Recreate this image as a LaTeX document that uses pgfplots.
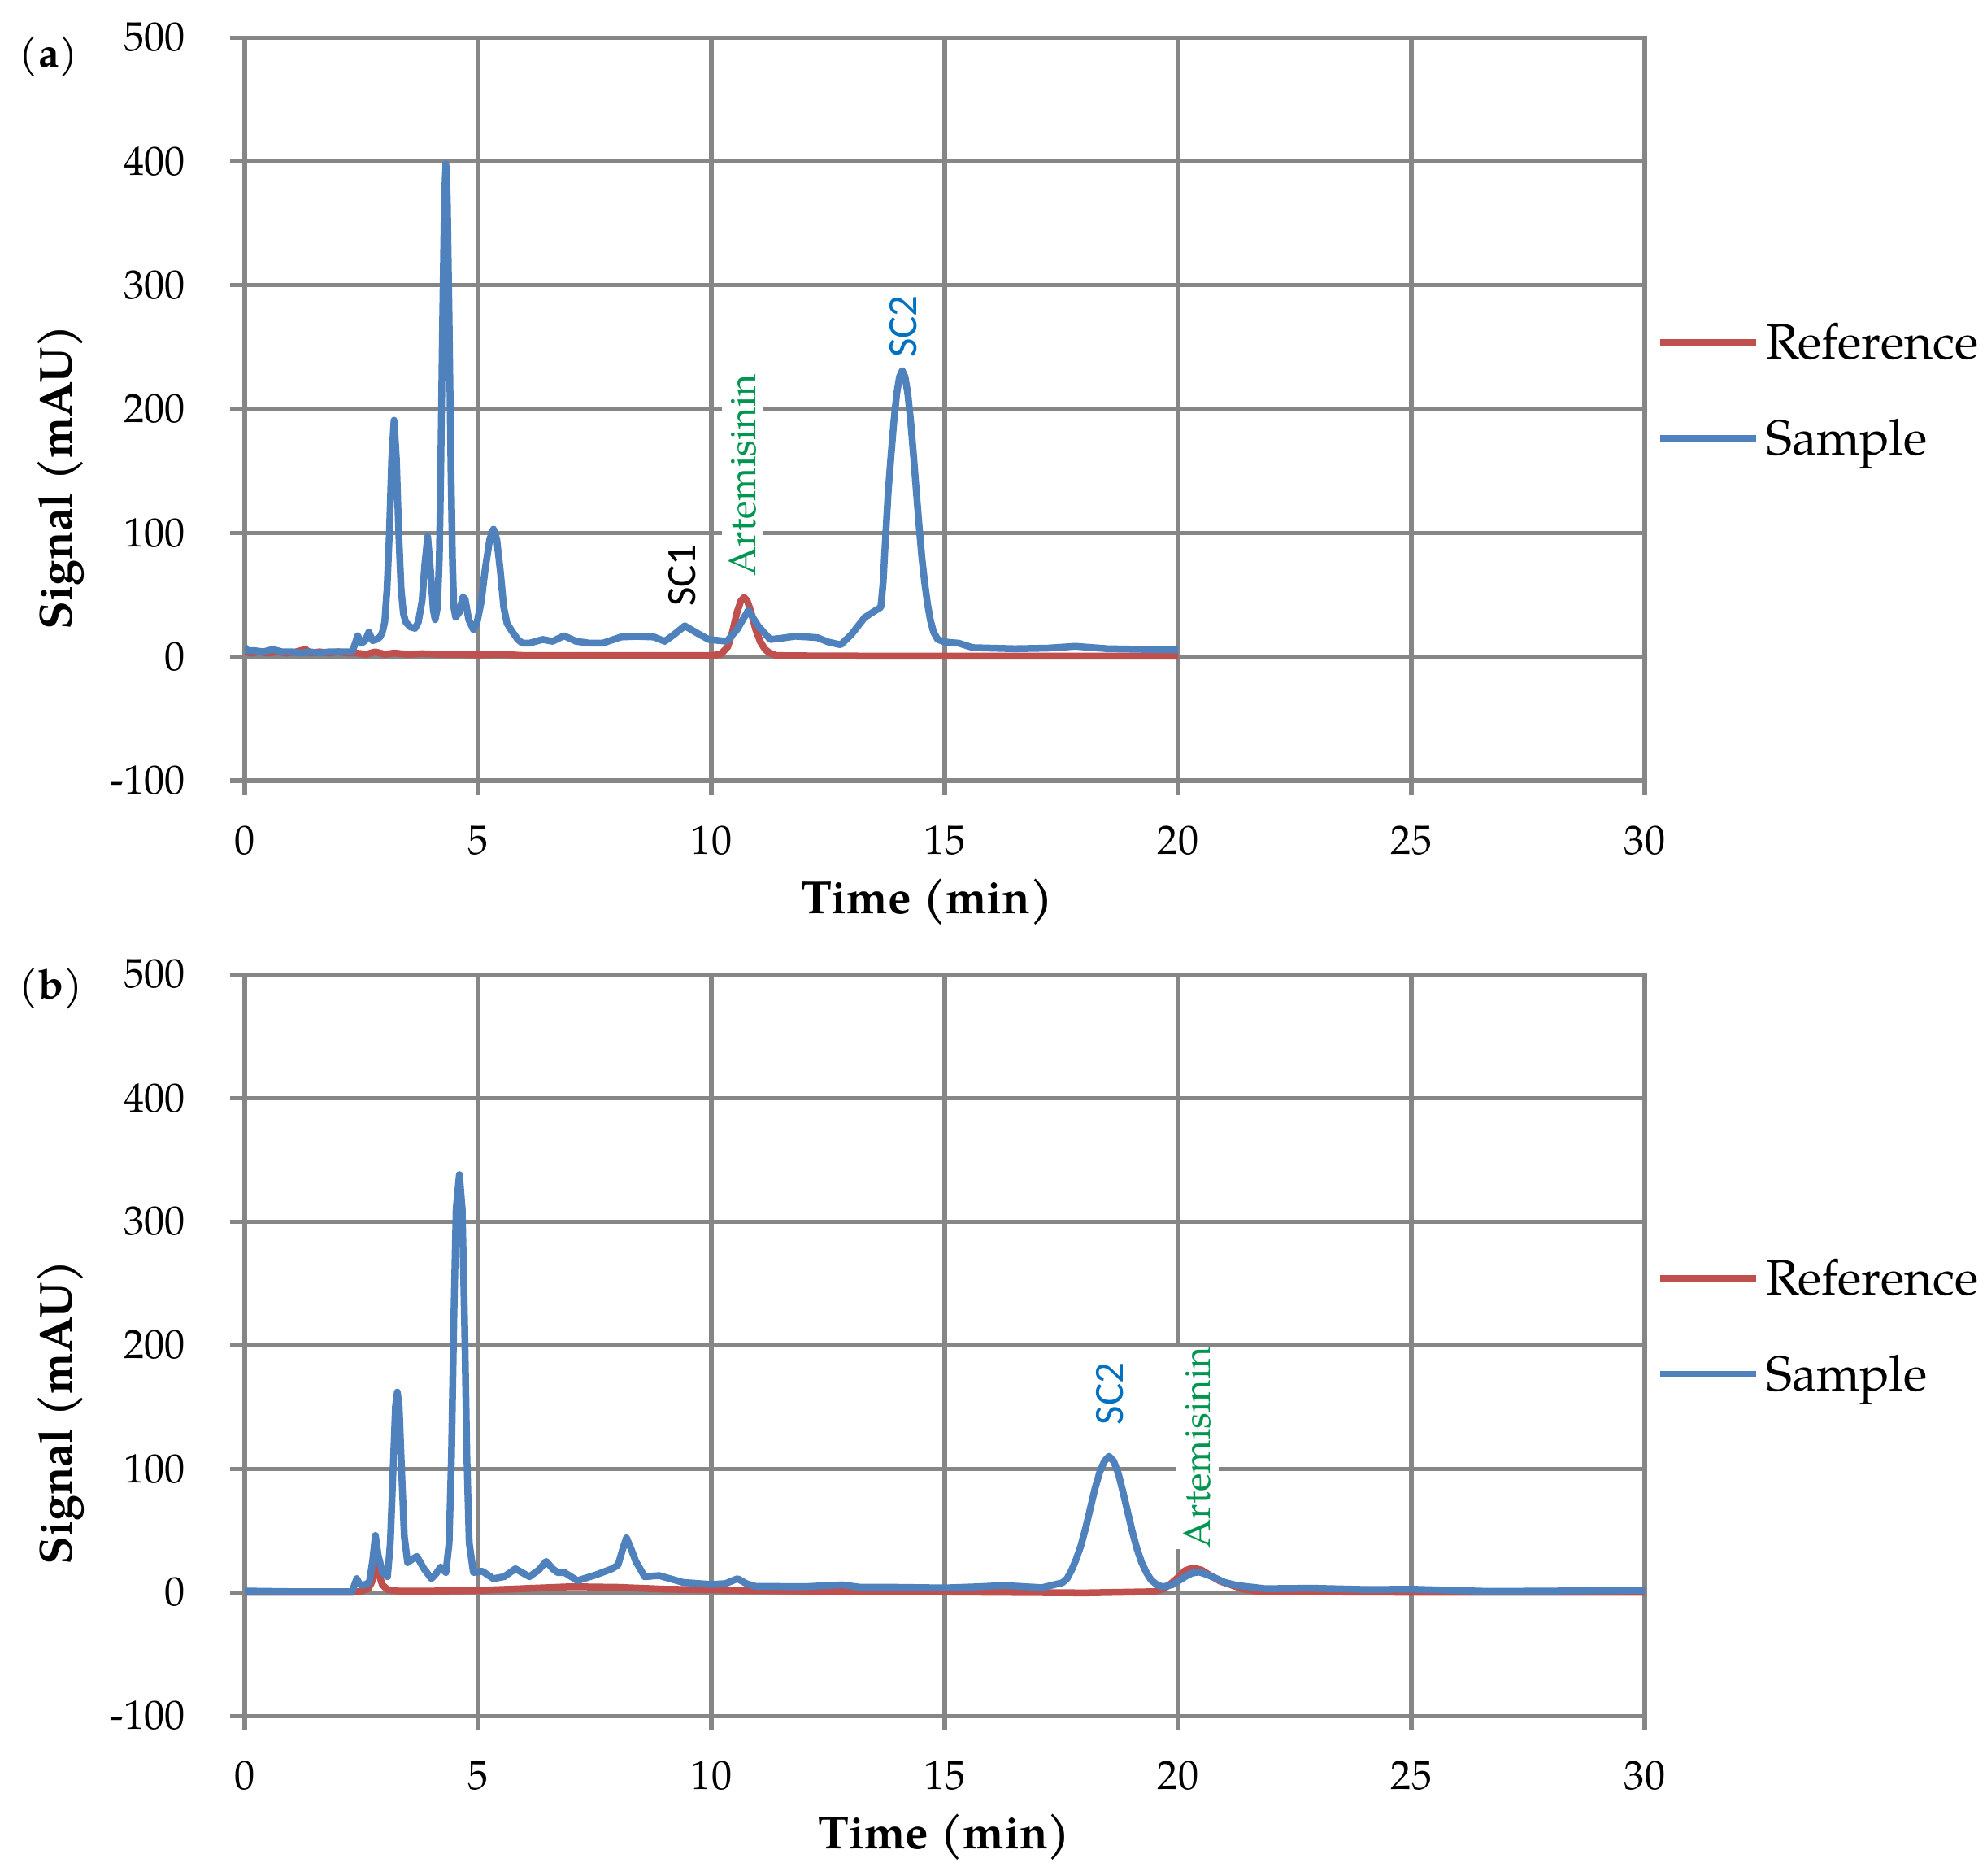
\documentclass[border=0pt]{standalone}
\usepackage{fontspec}
\setmainfont{TeX Gyre Pagella}
\newfontfamily\sansf{Carlito}
\usepackage{pgfplots}
\pgfplotsset{compat=1.18}
\definecolor{refred}{RGB}{192,80,77}
\definecolor{sampblue}{RGB}{79,129,189}
\definecolor{gridgray}{RGB}{134,134,134}
\definecolor{artgreen}{RGB}{0,150,80}
\definecolor{scblue}{RGB}{0,112,192}
\pgfplotsset{chromo/.style={
  scale only axis, width=404.67pt,
  xmin=0, xmax=30, ymin=-100, ymax=500,
  xtick={0,5,...,30}, ytick={-100,0,...,500},
  axis line style={gridgray, line width=1.2pt},
  grid=major, major grid style={gridgray, line width=1.2pt},
  tick style={gridgray, line width=1.2pt},
  tick align=outside, major tick length=4.2pt,
  xtick pos=bottom, ytick pos=left,
  /pgf/number format/assume math mode=true,
  ticklabel style={font=\fontsize{11.8}{14}\selectfont, inner sep=0pt, black},
  xticklabel style={anchor=base, yshift=-17.0pt},
  yticklabel style={anchor=east, xshift=-12.9pt},
  label style={font=\bfseries\fontsize{13.4}{16}\selectfont},
  legend cell align=left,
  legend style={draw=none, fill=none, inner sep=0pt, row sep=16.4pt, column sep=1.9pt,
    font=\fontsize{14.3}{17}\selectfont,
    nodes={inner sep=0pt, text height=10.5pt, text depth=0.8pt}},
  legend image code/.code={\draw[#1, line width=1.8pt] (0pt,0pt) -- (27.7pt,0pt);},
  every axis plot/.append style={line width=2.0pt, line join=round, mark=none},
}}
\begin{document}
\begin{tikzpicture}
\useasboundingbox (0,0) rectangle (574.34pt,-541.91pt);
\node[anchor=base west, inner sep=0pt, font=\fontsize{12}{14}\selectfont] at (5.4pt,-19.27pt) {(\textbf{a})};
\node[anchor=base west, inner sep=0pt, font=\fontsize{12}{14}\selectfont] at (5.4pt,-288.6pt) {(\textbf{b})};
\begin{axis}[chromo, at={(70.74pt,-225.6pt)}, anchor=south west, height=214.79pt,
  xlabel={Time (min)}, ylabel={Signal (mAU)},
  xlabel style={at={(axis description cs:0.4875,-0.1783)}, anchor=base},
  ylabel style={at={(axis description cs:-0.1237,0.4086)}, anchor=base, rotate=0},
  legend style={at={(axis description cs:1.0085,0.525)}, anchor=west}]
\addplot[refred] coordinates {(0,4) (0.15,3) (0.3,4) (0.5,3) (0.7,4) (0.9,3) (1.1,4) (1.3,6) (1.4,3) (1.6,4) (1.8,3) (2.0,4) (2.2,3) (2.4,3) (2.6,2) (2.8,4) (3.0,2) (3.2,3) (3.5,2) (3.8,2.5) (4.2,2) (4.6,2) (5.0,1.5) (5.5,2) (6,1) (7,1) (8,1) (9,1) (10,1) (10.2,2) (10.35,8) (10.45,20) (10.55,36) (10.63,45) (10.7,48) (10.77,45) (10.85,36) (10.95,22) (11.05,12) (11.15,6) (11.25,3) (11.4,1) (12,0.8) (14,0.5) (16,0.5) (18,0.5) (20,0.5)};
\addlegendentry{Reference}
\addplot[sampblue] coordinates {(0,8) (0.05,5) (0.2,5) (0.4,4) (0.6,6) (0.8,4) (1.0,4) (1.2,3) (1.4,4) (1.6,3) (1.8,4) (2.0,4) (2.3,4) (2.36,10) (2.42,17) (2.5,11) (2.58,13) (2.66,20) (2.74,13) (2.82,14) (2.9,16) (2.95,20) (3.0,28) (3.05,55) (3.1,100) (3.15,160) (3.2,191) (3.25,160) (3.3,100) (3.35,55) (3.4,35) (3.45,28) (3.55,24) (3.65,23) (3.72,28) (3.8,45) (3.86,75) (3.92,97) (3.98,70) (4.04,38) (4.08,30) (4.13,40) (4.17,80) (4.2,150) (4.24,270) (4.28,370) (4.31,398) (4.34,370) (4.38,270) (4.42,150) (4.45,80) (4.48,40) (4.52,32) (4.6,36) (4.67,48) (4.72,47) (4.8,30) (4.9,22) (4.98,28) (5.07,45) (5.15,70) (5.25,95) (5.33,103) (5.4,95) (5.48,68) (5.55,40) (5.62,27) (5.72,21) (5.85,14) (5.95,11) (6.1,11) (6.38,14) (6.6,12.5) (6.84,17) (7.1,12.5) (7.4,11) (7.67,11) (8.06,16) (8.4,16.5) (8.77,16) (9.0,12.5) (9.2,18) (9.43,25) (9.7,19) (9.94,14) (10.33,12.5) (10.55,22) (10.79,37.5) (11.0,25) (11.26,14) (11.5,15) (11.8,16.6) (12.27,15.5) (12.5,12) (12.77,9.7) (13.0,18) (13.28,31.6) (13.5,37) (13.63,40) (13.68,60) (13.73,95) (13.79,134) (13.85,163) (13.91,190) (13.97,212) (14.03,226) (14.09,231) (14.15,226) (14.21,212) (14.27,190) (14.33,163) (14.39,134) (14.45,106) (14.51,80) (14.57,60) (14.63,43) (14.69,30) (14.76,20) (14.85,14) (15.0,12) (15.3,11) (15.6,7.4) (16.5,6.5) (17.2,7) (17.8,8.5) (18.5,6.5) (19.3,6) (20.0,5.5)};
\addlegendentry{Sample}
\node[rotate=90, inner sep=0pt, font=\sansf\fontsize{12}{14}\selectfont] at (axis cs:9.37,65.7) {SC1};
\node[rotate=90, inner sep=0pt, fill=white, minimum height=12.2pt, text=artgreen, font=\fontsize{11}{13}\selectfont] at (axis cs:10.67,146.5) {Artemisinin};
\node[rotate=90, inner sep=0pt, text=scblue, font=\sansf\fontsize{12}{14}\selectfont] at (axis cs:14.12,266.6) {SC2};
\end{axis}
\begin{axis}[chromo, at={(70.74pt,-495.85pt)}, anchor=south west, height=214.3pt,
  xlabel={Time (min)}, ylabel={Signal (mAU)},
  xlabel style={at={(axis description cs:0.4998,-0.1787)}, anchor=base},
  ylabel style={at={(axis description cs:-0.1237,0.409)}, anchor=base, rotate=0},
  legend style={at={(axis description cs:1.0085,0.5257)}, anchor=west}]
\addplot[refred] coordinates {(0,0) (1,0) (2,0) (2.3,0) (2.5,1) (2.65,3) (2.72,8) (2.78,16) (2.83,22) (2.88,14) (2.95,6) (3.06,2) (3.3,1) (4,1) (5,1.5) (6,3) (7,4.5) (8,4) (9,2.5) (10,2) (12,1) (14,0.5) (16,0) (18,-0.5) (19.5,0.5) (19.7,3) (19.87,7.7) (20.0,12) (20.15,17.5) (20.32,19.7) (20.5,18) (20.67,14) (20.9,9) (21.17,5.5) (21.4,2.5) (21.67,1) (23,0.3) (25,0) (30,0)};
\addlegendentry{Reference}
\addplot[sampblue] coordinates {(0,1) (1,0.5) (2,0.5) (2.3,0.5) (2.4,11) (2.47,6) (2.55,5.7) (2.67,8) (2.74,25) (2.8,46) (2.86,30) (2.95,16) (3.06,12.6) (3.12,40) (3.18,100) (3.23,150) (3.27,162) (3.31,150) (3.36,100) (3.42,45) (3.49,24) (3.6,27) (3.69,29) (3.78,23) (3.84,19) (4.0,11) (4.1,15) (4.2,20.5) (4.31,16) (4.38,40) (4.43,110) (4.48,220) (4.53,310) (4.6,338) (4.66,310) (4.71,220) (4.76,110) (4.81,40) (4.9,16) (5.09,17) (5.33,11) (5.56,12.6) (5.8,19) (6.1,12.6) (6.3,18) (6.46,25) (6.6,19) (6.7,16) (6.85,16) (7.13,9.4) (7.52,14) (7.87,19) (8.0,22) (8.1,35) (8.18,44) (8.28,35) (8.38,25) (8.57,12.6) (8.88,13.5) (9.39,8) (10.0,6.3) (10.3,7) (10.56,11) (10.75,7) (10.95,4.7) (11.33,4.7) (12,4.5) (12.8,6) (13.2,4) (14,4) (15,3.5) (15.68,4.4) (16.28,5.5) (17.08,3.7) (17.52,7.7) (17.62,11) (17.72,18) (17.82,27) (17.92,38) (18.02,52) (18.12,68) (18.22,84) (18.32,97) (18.42,106) (18.52,110) (18.62,106) (18.72,96) (18.82,81) (18.92,65) (19.02,49) (19.12,35) (19.22,24) (19.32,16) (19.42,10) (19.55,6) (19.67,4.4) (19.87,6) (20.0,9) (20.17,13) (20.3,15.5) (20.45,16.4) (20.6,14.5) (20.77,12) (21.0,8) (21.27,5.5) (21.87,2.9) (22.86,3.3) (24.07,2.2) (25,2.5) (26.66,0.7) (28,1) (30,1.5)};
\addlegendentry{Sample}
\node[rotate=90, inner sep=0pt, text=scblue, font=\sansf\fontsize{12}{14}\selectfont] at (axis cs:18.54,160.5) {SC2};
\node[rotate=90, inner sep=0pt, fill=white, minimum height=12.2pt, text=artgreen, font=\fontsize{11}{13}\selectfont] at (axis cs:20.41,116.8) {Artemisinin};
\end{axis}
\end{tikzpicture}
\end{document}
